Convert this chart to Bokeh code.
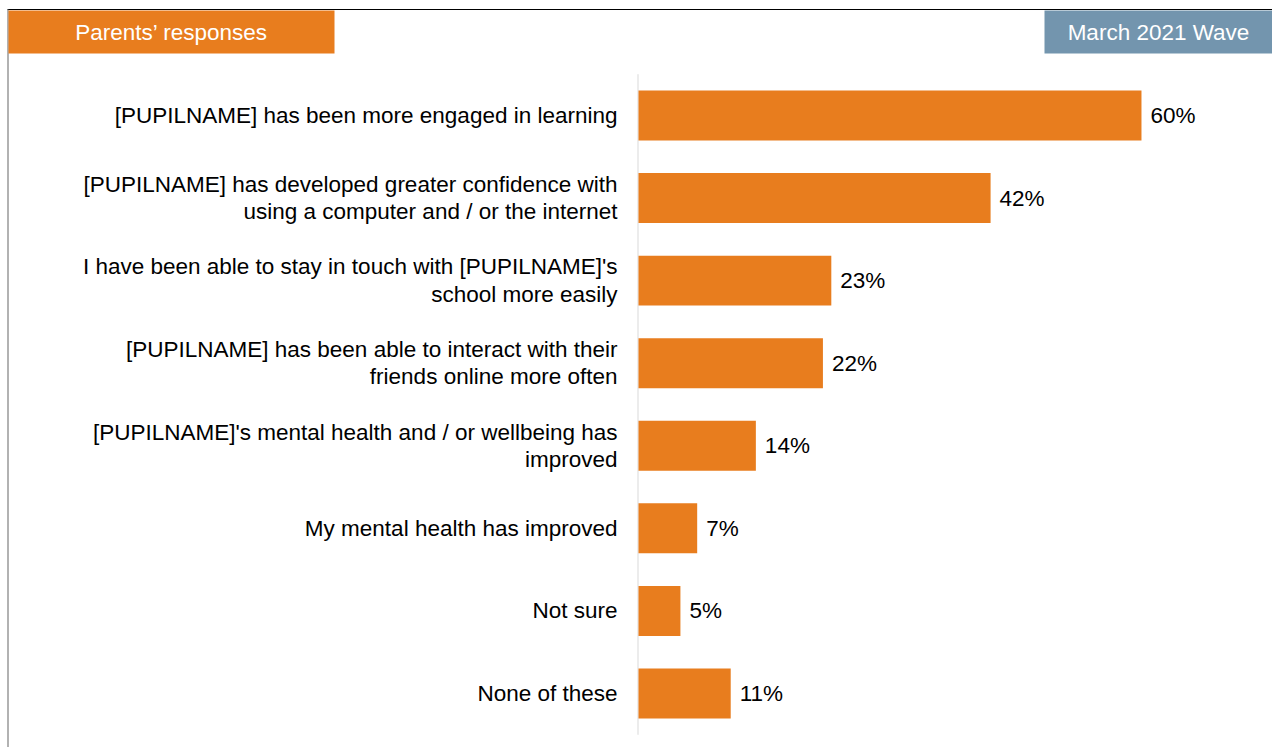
from bokeh.plotting import figure
from bokeh.models import Range1d
from bokeh.core.properties import value
from bokeh.embed import file_html
from bokeh.resources import INLINE

# ---- data ----
categories = [
    "[PUPILNAME] has been more engaged in learning",
    "[PUPILNAME] has developed greater confidence with\nusing a computer and / or the internet",
    "I have been able to stay in touch with [PUPILNAME]'s\nschool more easily",
    "[PUPILNAME] has been able to interact with their\nfriends online more often",
    "[PUPILNAME]'s mental health and / or wellbeing has\nimproved",
    "My mental health has improved",
    "Not sure",
    "None of these",
]
values = [60, 42, 23, 22, 14, 7, 5, 11]
value_labels = [f"{v}%" for v in values]
header_left = "Parents\u2019 responses"
header_right = "March 2021 Wave"

# ---- layout geometry (canvas pixels) ----
W, H = 1272, 747
PXU = 8.383      # px per percent
X0PX = 638       # canvas px of x = 0
PYU = 82.57      # px per category step
YTOP = 115       # canvas px of the first category centre
n = len(categories)


def dx(px):
    return (px - X0PX) / PXU


def dy(py):
    return (n - 1) - (py - YTOP) / PYU


ypos = list(range(n - 1, -1, -1))

ORANGE = "#E87D1E"
BLUEGREY = "#7395AE"
FONT = value("Liberation Sans")
FS = "22.5px"

p = figure(width=W, height=H, output_backend="svg", toolbar_location=None,
           x_range=Range1d(dx(0), dx(W)), y_range=Range1d(dy(H), dy(0)),
           min_border=0, tools="")
p.axis.visible = False
p.grid.visible = False
p.outline_line_color = None
p.background_fill_color = "white"
p.border_fill_color = "white"

# frame lines
p.segment(x0=[dx(7)], y0=[dy(9)], x1=[dx(W)], y1=[dy(9)], line_color="black", line_width=1.2)
p.segment(x0=[dx(7.5)], y0=[dy(9)], x1=[dx(7.5)], y1=[dy(H)], line_color="#7f7f7f", line_width=1.2)

# header boxes
p.quad(left=[dx(8)], right=[dx(334)], top=[dy(10)], bottom=[dy(53)],
       fill_color=ORANGE, line_color=None)
p.quad(left=[dx(1044)], right=[dx(W)], top=[dy(10)], bottom=[dy(53)],
       fill_color=BLUEGREY, line_color=None)
p.text(x=[dx(171)], y=[dy(32)], text=[header_left], text_color="white",
       text_align="center", text_baseline="middle", text_font=FONT, text_font_size=FS)
p.text(x=[dx(1158)], y=[dy(32)], text=[header_right], text_color="white",
       text_align="center", text_baseline="middle", text_font=FONT, text_font_size=FS)

# axis line
p.segment(x0=[dx(637.5)], y0=[-0.5], x1=[dx(637.5)], y1=[n - 0.5], line_color="#D9D9D9", line_width=1)

# bars
p.hbar(y=ypos, left=0, right=values, height=0.605, fill_color=ORANGE, line_color=None)

# category labels
p.text(x=[0] * n, y=ypos, text=categories, x_offset=-21, text_align="right",
       text_baseline="middle", text_font=FONT, text_font_size=FS, text_color="black",
       text_line_height=1.1)

# value labels
p.text(x=values, y=ypos, text=value_labels, x_offset=9, text_align="left",
       text_baseline="middle", text_font=FONT, text_font_size=FS, text_color="black")

open("out.html", "w").write(file_html(p, INLINE))
